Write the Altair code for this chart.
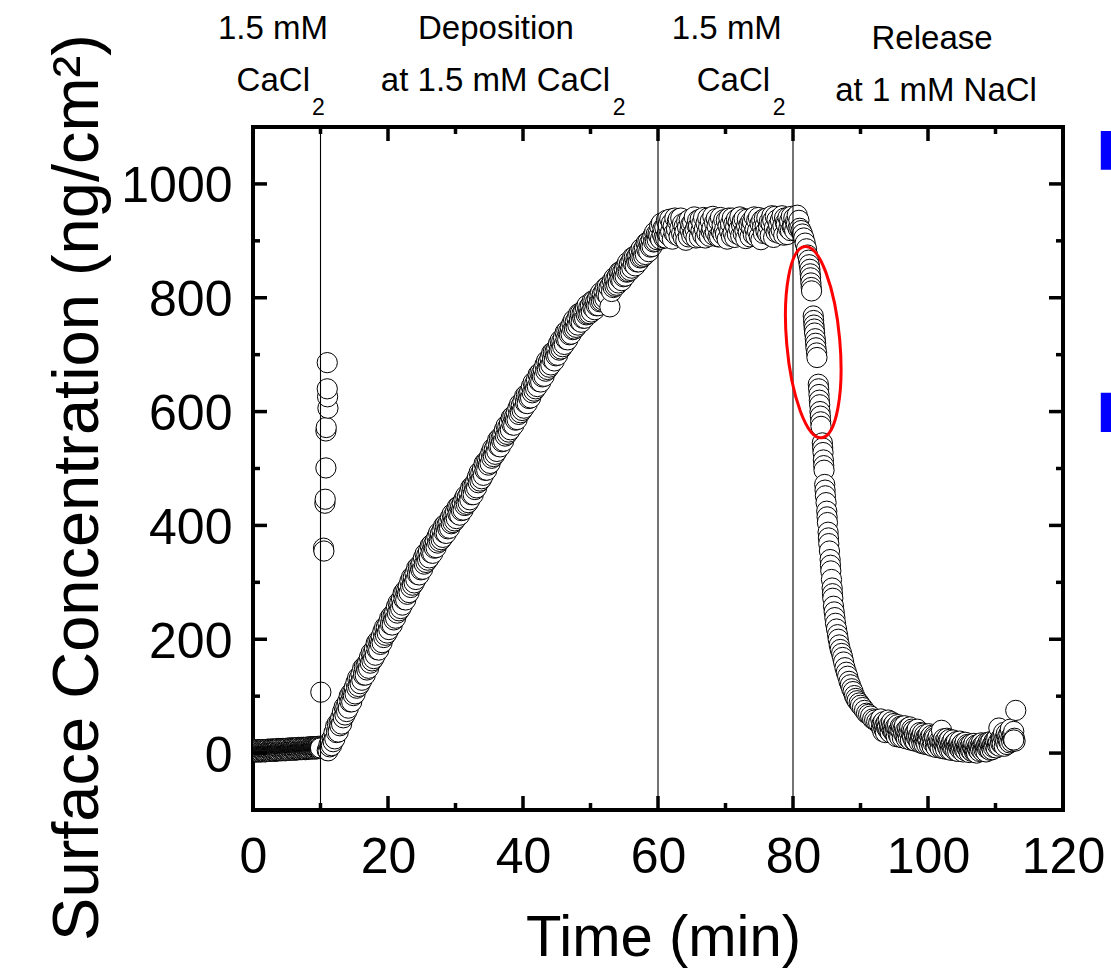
import altair as alt
import pandas as pd

# ------------------------------------------------------------------ data
# Baseline in 1.5 mM CaCl2, one reading every 0.05 min from t = 0
base_start, base_step = 0.0, 0.05
base_vals = [3, 5, 2, 4, 3, 6, 2, 4, 5, 3,
             4, 2, 5, 3, 4, 6, 3, 5, 2, 4,
             5, 3, 4, 6, 2, 5, 4, 3, 6, 4,
             4, 6, 3, 5, 4, 2, 5, 6, 3, 5,
             5, 3, 6, 4, 5, 7, 4, 3, 6, 5,
             6, 4, 5, 7, 3, 6, 5, 4, 7, 5,
             5, 7, 4, 6, 5, 3, 6, 7, 4, 6,
             6, 4, 7, 5, 6, 8, 5, 4, 7, 6,
             7, 5, 6, 8, 4, 7, 6, 5, 8, 6,
             6, 8, 5, 7, 6, 4, 7, 8, 5, 7,
             7, 5, 8, 6, 7, 9, 6, 5, 8, 7,
             8, 6, 7, 9, 5, 8, 7, 6, 9, 7,
             7, 9, 6, 8, 7, 5, 8, 9, 6, 8,
             8, 6, 9, 7, 8, 10, 7, 6, 9, 8,
             9, 7, 8, 10, 6, 9, 8, 7, 10, 8,
             8, 10, 7, 9, 8, 6, 9, 10, 7, 9,
             9, 7, 10, 8, 9, 11, 8, 7, 10, 9,
             10, 8, 9, 11, 7, 10, 9, 8, 11, 9,
             9, 11, 8, 10, 9, 7, 10, 11, 8, 10,
             10, 8, 11, 9, 10, 12, 9, 8, 11, 10,
             9]

# Injection artefacts just after the solution change
spike_t = [10.05, 10.45, 10.5, 10.65, 10.7, 10.8, 10.8, 10.85, 11.1, 11.05, 11.0, 11.0]
spike_v = [107, 360, 355, 439, 446, 501, 566, 572, 606, 626, 640, 686]

# Deposition, one reading every 0.125 min from t = 11
rise_start, rise_step = 11.0, 0.125
rise_vals = [5, 4, 15, 11, 22, 13, 26, 20,
             36, 25, 47, 36, 52, 37, 53, 48,
             62, 51, 72, 62, 81, 67, 81, 73,
             90, 79, 100, 90, 105, 90, 106, 101,
             115, 104, 124, 114, 132, 117, 131, 122,
             139, 128, 149, 137, 152, 137, 153, 146,
             160, 149, 168, 158, 176, 162, 175, 166,
             183, 172, 193, 182, 197, 181, 197, 191,
             205, 194, 214, 203, 221, 207, 221, 211,
             228, 217, 237, 226, 241, 225, 241, 234,
             248, 237, 257, 246, 264, 250, 264, 254,
             271, 260, 281, 270, 285, 269, 285, 279,
             293, 282, 302, 291, 309, 295, 309, 299,
             316, 305, 325, 314, 328, 313, 328, 322,
             335, 323, 343, 332, 350, 335, 348, 339,
             355, 343, 364, 352, 367, 351, 366, 360,
             373, 361, 380, 369, 387, 372, 385, 375,
             391, 379, 399, 387, 402, 386, 401, 394,
             407, 395, 414, 403, 420, 405, 418, 408,
             424, 412, 432, 420, 434, 418, 433, 426,
             439, 427, 446, 435, 452, 437, 450, 440,
             456, 445, 466, 454, 469, 454, 470, 463,
             477, 466, 485, 475, 493, 478, 492, 482,
             499, 488, 509, 497, 512, 497, 513, 506,
             520, 509, 528, 518, 535, 521, 534, 525,
             541, 530, 550, 539, 553, 538, 553, 547,
             560, 548, 568, 557, 575, 560, 573, 564,
             580, 568, 589, 577, 592, 576, 591, 585,
             598, 586, 606, 595, 613, 598, 611, 602,
             618, 606, 627, 615, 630, 614, 629, 623,
             636, 624, 644, 633, 651, 636, 649, 640,
             656, 644, 665, 653, 668, 652, 667, 661,
             674, 662, 682, 671, 689, 674, 687, 678,
             694, 682, 703, 691, 705, 689, 705, 698,
             711, 699, 719, 708, 725, 710, 724, 714,
             730, 718, 739, 727, 742, 726, 741, 735,
             748, 736, 755, 744, 761, 745, 758, 748,
             764, 752, 772, 759, 773, 757, 772, 764,
             777, 764, 782, 770, 787, 771, 783, 772,
             787, 775, 794, 782, 795, 779, 793, 786,
             798, 786, 804, 793, 809, 794, 806, 796,
             811, 799, 818, 806, 820, 803, 818, 784,
             823, 811, 830, 818, 835, 820, 833, 822,
             838, 826, 845, 833, 846, 830, 845, 837,
             850, 838, 856, 845, 862, 846, 859, 848,
             864, 852, 871, 859, 872, 856, 870, 863,
             875, 863, 881, 870, 886, 871, 883, 873,
             888, 876, 896, 884, 898, 881, 896, 889,
             902, 890, 909, 898, 915, 899, 912, 902,
             912]

# Rinse in 1.5 mM CaCl2, one reading every 0.125 min from t = 60.125
plateau_start, plateau_step = 60.125, 0.125
plateau_vals = [908, 926, 903, 931, 912, 922, 905,
                924, 905, 936, 912, 928, 909, 938, 916,
                931, 903, 926, 914, 940, 911, 921, 934,
                938, 908, 922, 940, 913, 930, 906, 925,
                916, 901, 934, 924, 907, 937, 919, 929,
                909, 932, 914, 942, 920, 905, 928, 936,
                926, 906, 938, 918, 931, 910, 941, 921,
                905, 931, 913, 940, 924, 908, 935, 917,
                922, 943, 910, 932, 915, 939, 926, 907,
                934, 907, 941, 916, 928, 911, 937, 920,
                912, 936, 903, 926, 940, 917, 930, 908,
                940, 914, 930, 906, 925, 938, 912, 933,
                921, 942, 909, 928, 935, 913, 939, 918,
                904, 926, 938, 915, 929, 907, 934, 922,
                933, 911, 942, 920, 908, 936, 917, 941,
                908, 930, 902, 936, 924, 913, 939, 926,
                917, 940, 912, 926, 934, 909, 931, 944,
                936, 906, 923, 943, 915, 937, 920, 928,
                913, 936, 919, 944, 927, 910, 940, 932,
                929, 911, 941, 921, 935, 918, 943, 925,
                926, 940, 918, 934, 929, 945, 922, 936,
                922]

# Release in 1 mM NaCl
drop_t = [81.2, 81.4, 81.6, 81.8, 82.0, 82.15, 82.3, 82.4, 82.5, 82.55, 82.6, 82.65, 82.7, 82.75,
          83.0, 83.05, 83.1, 83.15, 83.2, 83.3, 83.35, 83.4, 83.5, 83.55,
          83.75, 83.8, 83.85, 83.9, 83.95, 84.0, 84.05, 84.1, 84.15,
          84.35, 84.4, 84.45, 84.5, 84.55, 84.6, 84.7, 84.75, 84.8, 84.9,
          85.0, 85.05, 85.1, 85.2, 85.25, 85.3, 85.4, 85.5, 85.55, 85.6, 85.7, 85.8, 85.85, 85.9,
          86.0, 86.1, 86.2, 86.3, 86.45, 86.6, 86.7, 86.85,
          87.0, 87.2, 87.35, 87.5, 87.7, 87.9,
          88.1, 88.3, 88.5, 88.7, 88.9,
          89.1, 89.3, 89.5, 89.8,
          90.0, 90.3, 90.6, 90.9,
          91.2, 91.5, 91.8,
          92.1, 92.4, 92.7]
drop_v = [918, 912, 905, 896, 886, 875, 866, 858, 850, 842, 835, 826, 818, 812,
          768, 760, 752, 745, 738, 728, 720, 712, 703, 695,
          648, 640, 630, 620, 612, 600, 592, 582, 574,
          545, 536, 528, 515, 505, 497, 472, 462, 452, 440,
          425, 415, 405, 388, 378, 368, 355, 340, 330, 320, 305, 290, 280, 272,
          258, 248, 238, 228, 218, 208, 200, 190,
          182, 175, 168, 160, 150, 142,
          135, 126, 120, 113, 108,
          101, 96, 92, 88,
          84, 80, 75, 70,
          68, 65, 60,
          58, 55, 53]

# Tail, one reading every 0.1 min from t = 93
tail_start, tail_step = 93.0, 0.1
tail_vals = [60, 45, 52, 38, 55, 42, 49, 36, 53, 44,
             47, 58, 39, 50, 36, 46, 55, 40, 49, 37,
             52, 35, 46, 29, 44, 50, 33, 41, 28, 47,
             38, 46, 27, 42, 34, 48, 30, 40, 25, 36,
             44, 26, 37, 46, 23, 35, 42, 28, 39, 22,
             34, 21, 38, 27, 42, 24, 31, 19, 36, 26,
             30, 17, 35, 24, 16, 32, 21, 28, 15, 29,
             23, 34, 14, 28, 19, 31, 12, 25, 17, 30,
             27, 15, 10, 24, 18, 29, 13, 22, 9, 20,
             40, 19, 8, 25, 14, 21, 7, 18, 26, 11,
             22, 6, 24, 13, 5, 19, 10, 23, 8, 16,
             18, 4, 20, 11, 3, 15, 9, 21, 6, 14,
             8, 17, 2, 13, 6, 19, 4, 11, 15, 7,
             13, 1, 11, 5, 16, 3, 12, 8, 17, 2,
             4, 14, 0, 10, 6, 15, 3, 12, 7, 18,
             12, 3, 15, 6, 17, 9, 2, 14, 8, 19,
             8, 18, 5, 20, 11, 6, 16, 10, 21, 13,
             22, 9, 26, 14, 19, 44, 12, 24, 17, 28,
             16, 30, 36, 12, 26, 20, 34, 15, 29, 22,
             34, 18, 42, 28, 20, 31, 24, 38, 26, 21]
end_t = [113.0, 112.7]
end_v = [75, 23]

# solution changes
event_times = [10, 60, 80]

# axes
x_domain = [0, 120]
y_domain = [-100, 1100]
x_labels = [0, 20, 40, 60, 80, 100, 120]
y_labels = [0, 200, 400, 600, 800, 1000]
x_major = [20, 40, 60, 80, 100]
x_minor = [10, 30, 50, 70, 90, 110]
y_major = [0, 200, 400, 600, 800, 1000]
y_minor = [100, 300, 500, 700, 900]

# phase annotations above the plot
head_text = ["1.5 mM", "Deposition", "1.5 mM", "Release", "at 1 mM NaCl"]
head_x = [2.96, 36.0, 70.2, 100.6, 101.2]
head_y = [1255, 1255, 1255, 1237, 1146]
salt_text = ["CaCl", "at 1.5 mM CaCl", "CaCl"]
salt_x = [8.44, 52.9, 76.6]
salt_y = [1163, 1163, 1163]
sub_text = ["2", "2", "2"]
sub_x = [8.74, 53.3, 77.0]
sub_y = [1121, 1121, 1121]

# highlighted region
ellipse_x = [83.0]
ellipse_y = [722]

# blue fragments at right edge
blue_x = [125.6, 125.6]
blue_x2 = [130.0, 130.0]
blue_y = [1025, 564]
blue_y2 = [1093, 633]

# ------------------------------------------------------------------ build
def seq(start, step, vals):
    return [round(start + i * step, 4) for i in range(len(vals))]

t_all = (seq(base_start, base_step, base_vals) + spike_t +
         seq(rise_start, rise_step, rise_vals) +
         seq(plateau_start, plateau_step, plateau_vals) +
         drop_t + seq(tail_start, tail_step, tail_vals) + end_t)
v_all = base_vals + spike_v + rise_vals + plateau_vals + drop_v + tail_vals + end_v
df = pd.DataFrame({"t": t_all, "v": v_all, "order": range(len(t_all))})

FONT = "Liberation Sans"
xs = alt.Scale(domain=x_domain, nice=False, zero=False)
ys = alt.Scale(domain=y_domain, nice=False, zero=False)

X_AXIS = alt.Axis(
    values=x_labels, ticks=False, tickSize=0, domain=False, grid=False,
    format="d",
    labelFont=FONT, labelFontSize=50, labelColor="black",
    labelPadding=62, labelBaseline="alphabetic", labelFlush=False,
    labelOverlap=False,
    title="Time (min)", titleFont=FONT, titleFontSize=58,
    titleFontWeight="normal", titleColor="black",
    titleX=410, titleY=145, titleBaseline="alphabetic", titleAlign="center")
Y_AXIS = alt.Axis(
    values=y_labels, ticks=False, tickSize=0, domain=False, grid=False,
    format="d",
    labelFont=FONT, labelFontSize=50, labelColor="black",
    labelPadding=21, labelOffset=3, labelFlush=False, labelOverlap=False,
    title="Surface Concentration (ng/cm²)",
    titleFont=FONT,
    titleFontSize=65, titleFontWeight="normal", titleColor="black",
    titleX=-156, titleY=360, titleAngle=270, titleBaseline="alphabetic",
    titleAlign="center")


def X():
    return alt.X("t:Q", scale=xs, axis=X_AXIS)


def Y():
    return alt.Y("v:Q", scale=ys, axis=Y_AXIS)


points = alt.Chart(df).mark_point(
    shape="circle", filled=True, fill="white", stroke="black",
    strokeWidth=1, size=410, opacity=1, clip=True
).encode(x=X(), y=Y(), order="order:Q")

rules = alt.Chart(pd.DataFrame({"t": event_times})).mark_rule(
    color="black", strokeWidth=1.1
).encode(x=X())


def ticks(vals, edge, orient, length):
    if orient == "vertical":
        d = pd.DataFrame({"t": vals, "v": [edge] * len(vals)})
    else:
        d = pd.DataFrame({"v": vals, "t": [edge] * len(vals)})
    return alt.Chart(d).mark_tick(
        orient=orient, size=2 * length, thickness=3.5, color="black",
        opacity=1, clip=True
    ).encode(x=X(), y=Y())


tick_layers = [
    ticks(x_major, y_domain[0], "vertical", 14),
    ticks(x_minor, y_domain[0], "vertical", 7),
    ticks(x_major, y_domain[1], "vertical", 14),
    ticks(x_minor, y_domain[1], "vertical", 7),
    ticks(y_major, x_domain[0], "horizontal", 14),
    ticks(y_minor, x_domain[0], "horizontal", 7),
    ticks(y_major, x_domain[1], "horizontal", 14),
    ticks(y_minor, x_domain[1], "horizontal", 7),
]

ellipse = alt.Chart(pd.DataFrame({"t": ellipse_x, "v": ellipse_y})).mark_point(
    shape="M0,-1 A0.277,1 0 1,1 0,1 A0.277,1 0 1,1 0,-1 Z",
    size=36864, filled=False, stroke="#ff0000", strokeWidth=3,
    opacity=1, angle=355
).encode(x=X(), y=Y())

head = alt.Chart(pd.DataFrame({"s": head_text, "t": head_x, "v": head_y})).mark_text(
    font=FONT, fontSize=33, color="black", align="center",
    baseline="alphabetic", clip=False
).encode(x=X(), y=Y(), text="s:N")

salt = alt.Chart(pd.DataFrame({"s": salt_text, "t": salt_x, "v": salt_y})).mark_text(
    font=FONT, fontSize=33, color="black", align="right",
    baseline="alphabetic", clip=False
).encode(x=X(), y=Y(), text="s:N")

sub = alt.Chart(pd.DataFrame({"s": sub_text, "t": sub_x, "v": sub_y})).mark_text(
    font=FONT, fontSize=23, color="black", align="left",
    baseline="alphabetic", clip=False
).encode(x=X(), y=Y(), text="s:N")

blue = alt.Chart(pd.DataFrame({"t": blue_x, "t2": blue_x2, "v": blue_y, "v2": blue_y2})).mark_rect(
    color="#0000ff", opacity=1, clip=False
).encode(x=X(), x2="t2:Q", y=Y(), y2="v2:Q")

chart = alt.layer(
    points, rules, *tick_layers, ellipse, head, salt, sub, blue
).properties(
    width=810, height=683,
    padding={"left": 253, "top": 127, "right": 48, "bottom": 166},
    autosize=alt.AutoSizeParams(type="none"),
    background="white",
).configure_view(
    stroke="black", strokeWidth=4
)

chart.save("out.html", embed_options={"renderer": "svg", "actions": False})
